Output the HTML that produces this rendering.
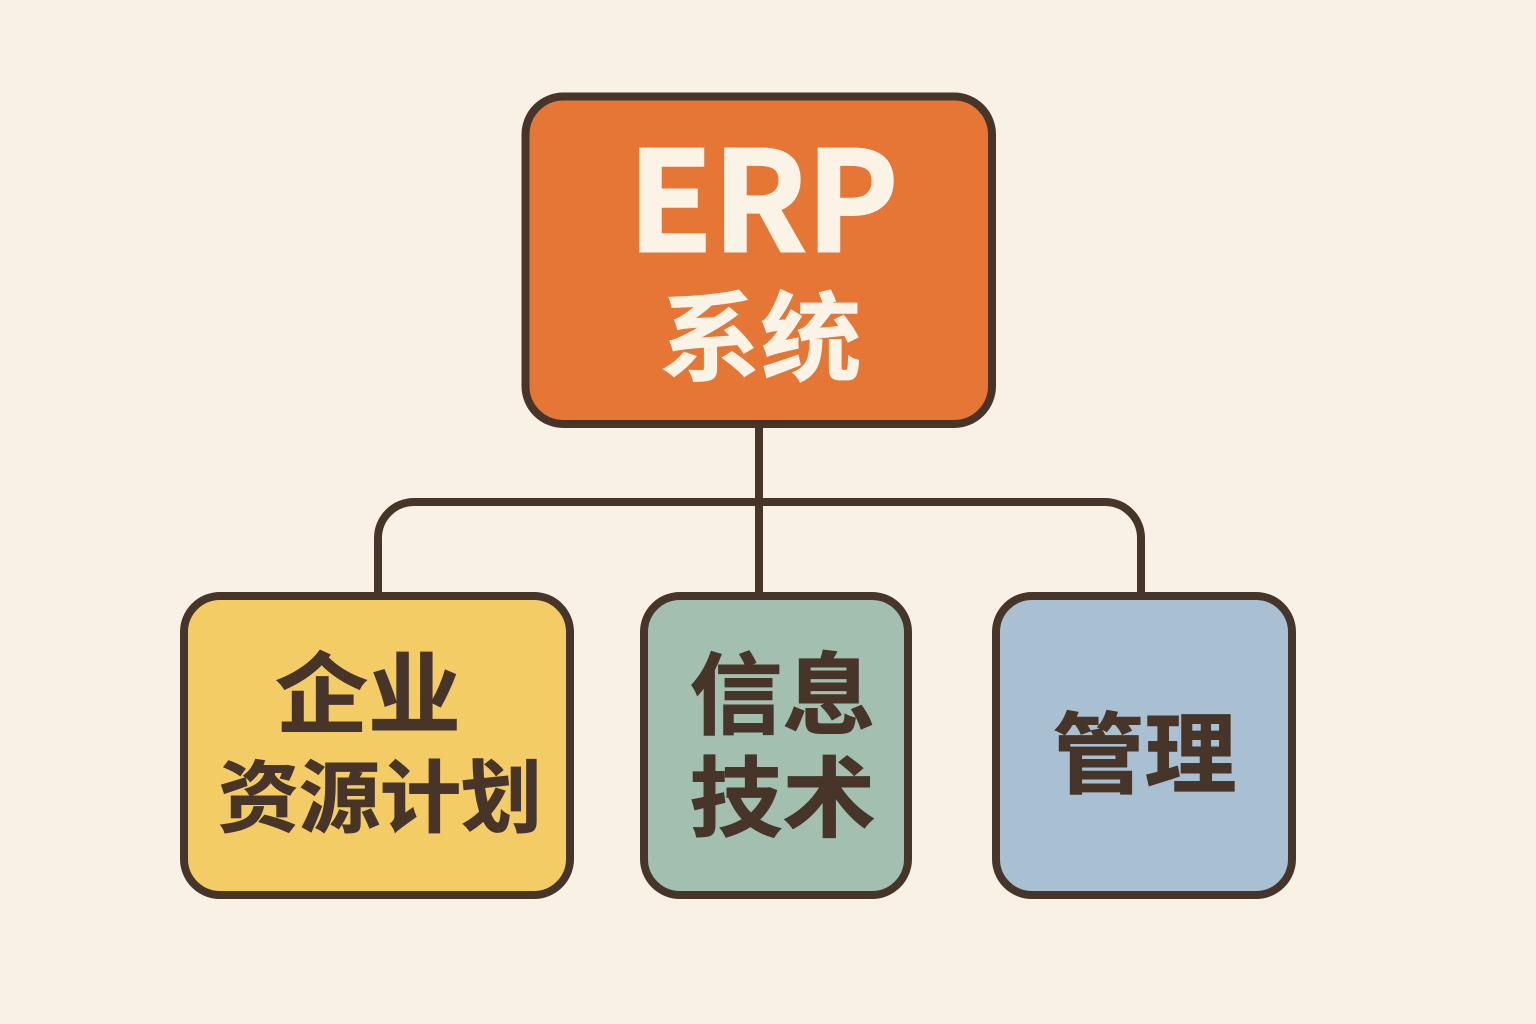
<!DOCTYPE html>
<html lang="zh">
<head>
<meta charset="utf-8">
<style>
html,body{margin:0;padding:0;background:#f9f1e5;}
svg{display:block;}
text{font-family:"Liberation Sans","Noto Sans CJK SC",sans-serif;font-weight:700;text-anchor:middle;}
</style>
</head>
<body>
<svg width="1536" height="1024" viewBox="0 0 1536 1024" xmlns="http://www.w3.org/2000/svg">
<rect width="1536" height="1024" fill="#f9f1e5"/>
<g fill="none" stroke="#47352a" stroke-width="8">
<path d="M759 426V596"/>
<path d="M378 596V538A36 36 0 0 1 414 502H1105A36 36 0 0 1 1141 538V596"/>
</g>
<g stroke="#47352a" stroke-width="8">
<rect x="525.5" y="96.5" width="466.5" height="327.5" rx="38" fill="#e67635"/>
<rect x="184" y="596" width="386" height="299" rx="36" fill="#f3cc65"/>
<rect x="644" y="596" width="264" height="299" rx="36" fill="#a3bfb0"/>
<rect x="996" y="596" width="296" height="299" rx="36" fill="#a9c0d2"/>
</g>
<text x="627.5 712.5 806" y="251.5" font-size="139" fill="#fbf3e6" stroke="#fbf3e6" stroke-width="2" style="font-family:'Noto Sans CJK SC',sans-serif;text-anchor:start">ERP</text>
<text transform="translate(760.5 373) scale(1 .96)" font-size="101" fill="#fbf3e6" stroke="#fbf3e6" stroke-width=".8">系统</text>
<g fill="#47352a" stroke="#47352a" stroke-width="1">
<text transform="translate(368 726) scale(1.02 .97)" font-size="91">企业</text>
<text transform="translate(380 825.5) scale(1 .97)" font-size="81">资源计划</text>
<text transform="translate(782.5 727) scale(1 .96)" font-size="93">信息</text>
<text transform="translate(782.5 829.5) scale(1 .94)" font-size="93">技术</text>
<text transform="translate(1144.5 786) scale(1 .96)" font-size="92">管理</text>
</g>
</svg>
</body>
</html>
